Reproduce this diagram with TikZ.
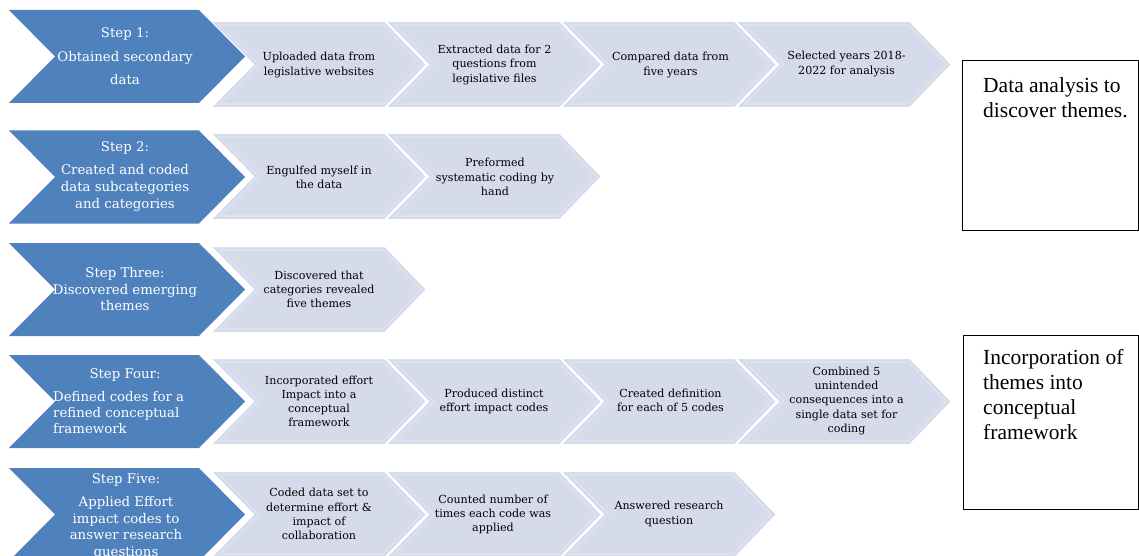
\documentclass[tikz,border=0pt]{standalone}
\usepackage{fontspec}
\setmainfont{DejaVu Serif}
\newfontfamily\timesf{Liberation Serif}
\definecolor{darkblue}{RGB}{79,129,189}
\definecolor{lightblue}{RGB}{213,219,234}
\definecolor{lightinner}{RGB}{221,226,238}
\begin{document}
\begin{tikzpicture}[x=1pt,y=-1pt,
  darktxt/.style={text=white, font=\fontsize{13.3}{17}\selectfont, align=center, inner sep=0},
  lighttxt/.style={text=black, font=\fontsize{11.1}{14.2}\selectfont, align=center, inner sep=0},
  boxtxt/.style={font=\timesf\fontsize{21.5}{25}\selectfont, align=left, inner sep=0, anchor=north west},
  sidebox/.style={draw=black, line width=1.3pt, inner sep=0, anchor=north west},
  darkchev/.pic={\fill[darkblue] (-118,-46.5) -- (72,-46.5) -- (118,0) -- (72,46.5) -- (-118,46.5) -- (-72,0) -- cycle;},
  lightchev/.pic={
    \fill[lightblue, draw=white, line width=2pt] (-108.5,-43.5) -- (66.5,-43.5) -- (108.5,0) -- (66.5,43.5) -- (-108.5,43.5) -- (-65.5,0) -- cycle;
    \draw[lightinner, line width=1.6pt] (-98.9,-39.5) -- (64.7,-39.5) -- (102.8,0) -- (64.7,39.5) -- (-98.9,39.5) -- (-59.8,0) -- cycle;}
]
\useasboundingbox (0,0) rectangle (1139,556);
\clip (0,0) rectangle (1139,556);

% light chevrons
\foreach \cx in {318.5,493.5,668.5,843.5} \pic at (\cx,64.5) {lightchev};
\foreach \cx in {318.5,493.5} \pic at (\cx,176.5) {lightchev};
\foreach \cx in {318.5} \pic at (\cx,289.5) {lightchev};
\foreach \cx in {318.5,493.5,668.5,843.5} \pic at (\cx,401.5) {lightchev};
\foreach \cx in {318.5,493.5,668.5} \pic at (\cx,514.5) {lightchev};

% dark chevrons
\foreach \cy in {56.5,177,289.5,401.5,514.5} \pic at (127,\cy) {darkchev};

% step texts
\node[darktxt] (s1) at (125,56.5) {Step 1:\\[6.5pt]Obtained secondary\\[6.5pt]data};
\node[darktxt] (s2) at (125,177) {Step 2:\\[6pt]Created and coded\\data subcategories\\and categories};
\node[darktxt, font=\fontsize{13.3}{16.5}\selectfont] (s3) at (125,289.5) {Step Three:\\Discovered emerging\\themes};
\node[darktxt, anchor=base] (s4a) at (125,378) {Step Four:};
\node[darktxt, align=left, anchor=west, font=\fontsize{13.3}{16}\selectfont] (s4b) at (53,413) {Defined codes for a\\refined conceptual\\framework};
\node[darktxt, font=\fontsize{13.3}{16.5}\selectfont] (s5) at (126,516) {Step Five:\\[7pt]Applied Effort\\impact codes to\\answer research\\questions};

% light texts
\node[lighttxt] (r1c1) at (319,65) {Uploaded data from\\legislative websites};
\node[lighttxt] (r1c2) at (494.5,65) {Extracted data for 2\\questions from\\legislative files};
\node[lighttxt] (r1c3) at (670.5,65) {Compared data from\\five years};
\node[lighttxt] (r1c4) at (846.5,64) {Selected years 2018-\\2022 for analysis};
\node[lighttxt] (r2c1) at (319,177) {Engulfed myself in\\the data};
\node[lighttxt] (r2c2) at (495,177) {Preformed\\systematic coding by\\hand};
\node[lighttxt] (r3c1) at (319,289.5) {Discovered that\\categories revealed\\five themes};
\node[lighttxt] (r4c1) at (319,401.5) {Incorporated effort\\Impact into a\\conceptual\\framework};
\node[lighttxt] (r4c2) at (494,401.5) {Produced distinct\\effort impact codes};
\node[lighttxt] (r4c3) at (670.5,400.5) {Created definition\\for each of 5 codes};
\node[lighttxt] (r4c4) at (846.5,401) {Combined 5\\unintended\\consequences into a\\single data set for\\coding};
\node[lighttxt] (r5c1) at (319,514) {Coded data set to\\determine effort \&\\impact of\\collaboration};
\node[lighttxt] (r5c2) at (493,514.5) {Counted number of\\times each code was\\applied};
\node[lighttxt] (r5c3) at (669,514) {Answered research\\question};

% side boxes
\node[sidebox, minimum width=176, minimum height=170] (box1) at (962,60) {};
\node[boxtxt] (box1t) at (983,77.5) {Data analysis to\\discover themes.};
\node[sidebox, minimum width=175, minimum height=174] (box2) at (963,335) {};
\node[boxtxt] (box2t) at (983,349.5) {Incorporation of\\themes into\\conceptual\\framework};
\end{tikzpicture}
\end{document}
